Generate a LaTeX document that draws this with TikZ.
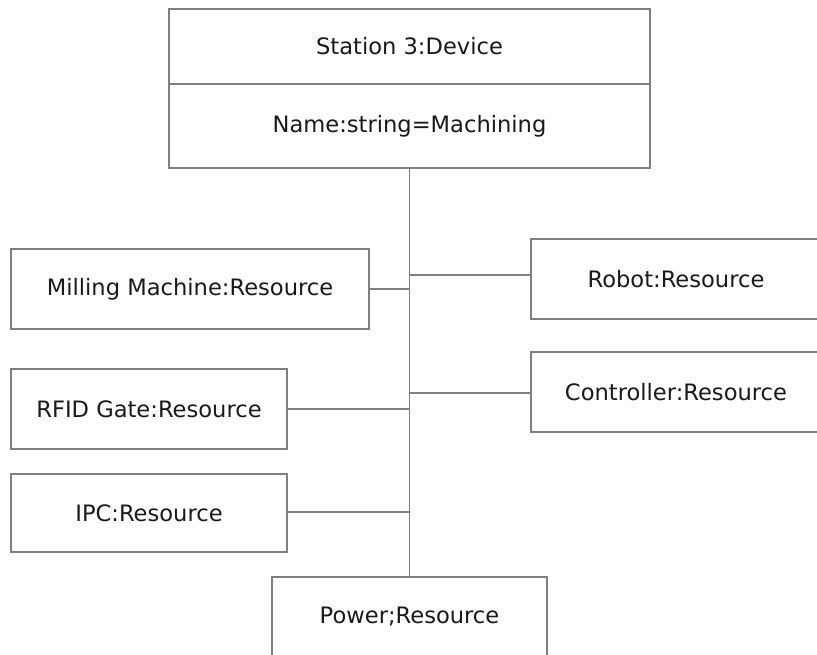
\documentclass[tikz,border=0pt]{standalone}
\usepackage{fontspec}
\setmainfont{DejaVu Sans}
\definecolor{linegray}{HTML}{808080}
\definecolor{textgray}{HTML}{1A1A1A}
\begin{document}
\begin{tikzpicture}[x=1pt,y=-1pt,
  umlbox/.style={draw=linegray, line width=1.4pt, fill=white, rectangle,
    inner sep=0pt, text=textgray, font=\fontsize{22.6}{27}\selectfont},
  link/.style={draw=linegray, line width=1.4pt}]
  \useasboundingbox (0,0) rectangle (817,654);

  % device object: name compartment and attribute compartment
  \node[umlbox, minimum width=481pt, minimum height=75pt] (head) at (409.5,46.5) {Station 3:Device};
  \node[umlbox, minimum width=481pt, minimum height=84pt] (attr) at (409.5,126) {Name:string=Machining};

  % resources
  \node[umlbox, minimum width=358pt, minimum height=80pt] (mill) at (190,289) {Milling Machine:Resource};
  \node[umlbox, minimum width=290pt, minimum height=80pt] (robot) at (676,279) {Robot:Resource};
  \node[umlbox, minimum width=290pt, minimum height=80pt] (ctrl) at (676,392) {Controller:Resource};
  \node[umlbox, minimum width=276pt, minimum height=80pt] (rfid) at (149,409) {RFID Gate:Resource};
  \node[umlbox, minimum width=276pt, minimum height=78pt] (ipc) at (149,513) {IPC:Resource};
  \node[umlbox, minimum width=275pt, minimum height=80pt] (power) at (409.5,617) {Power;Resource};

  % trunk and branches
  \draw[link] (attr.south) -- (power.north);
  \draw[link] (mill.east) -- (mill.east -| attr.south);
  \draw[link] ([yshift=4pt]robot.west) -- ([yshift=4pt]robot.west -| attr.south);
  \draw[link] ([yshift=-1pt]ctrl.west) -- ([yshift=-1pt]ctrl.west -| attr.south);
  \draw[link] (rfid.east) -- (rfid.east -| attr.south);
  \draw[link] ([yshift=1pt]ipc.east) -- ([yshift=1pt]ipc.east -| attr.south);
\end{tikzpicture}
\end{document}
